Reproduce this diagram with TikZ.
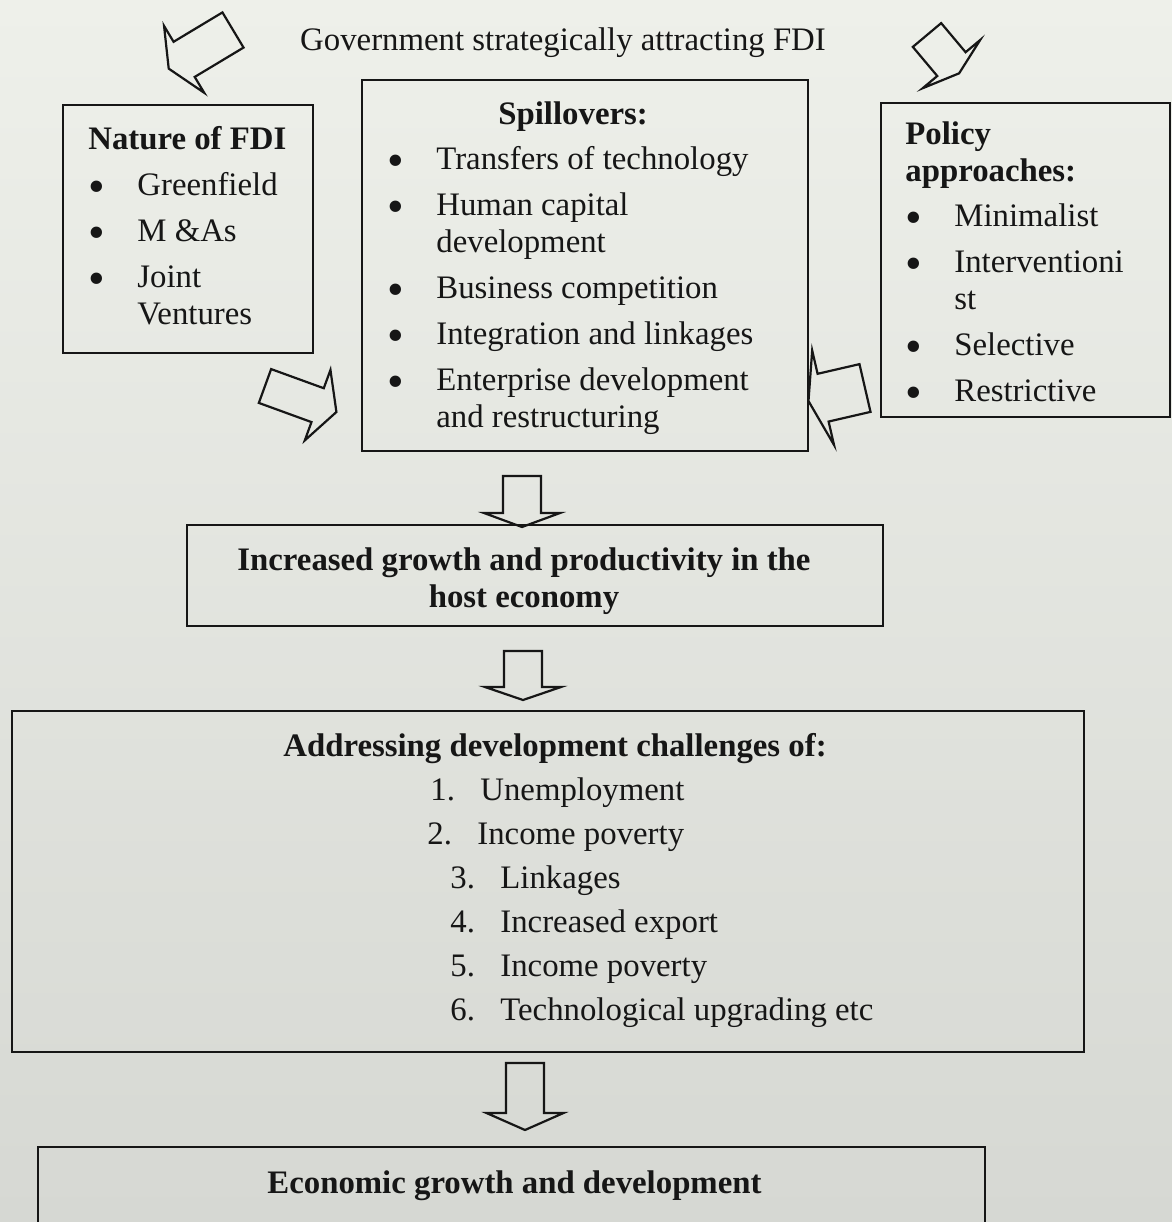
\documentclass[tikz,border=0pt]{standalone}
\usepackage{graphicx}
\usepackage{fontspec}
\setmainfont{Liberation Serif}
\definecolor{pagetop}{RGB}{238,240,234}
\definecolor{pagebot}{RGB}{214,216,211}
\definecolor{ink}{RGB}{22,22,22}
\usetikzlibrary{positioning}

\newcommand{\bodyfont}{\fontsize{16.4}{18.5}\selectfont}
\newcommand{\bl}{\makebox[24.5pt][l]{\raisebox{-3.5pt}{\scalebox{1.45}{\textbullet}}}}
\newcommand{\ind}{\hspace*{24.5pt}}
\newcommand{\nitem}[2]{\hspace*{#1}\makebox[25pt][l]{#2}}

\tikzset{
  box/.style={draw=ink, line width=1.2pt, inner sep=0pt},
  txt/.style={font=\bodyfont, text=ink, inner sep=0pt, align=left},
  arrowline/.style={draw=ink, line width=1.1pt, line join=miter},
  % hollow block arrow: length, head length, shaft width, head width
  pics/blockarrow/.style n args={4}{code={
    \draw[arrowline] (0,-#3/2) -- (#1-#2,-#3/2) -- (#1-#2,-#4/2) -- (#1,0)
      -- (#1-#2,#4/2) -- (#1-#2,#3/2) -- (0,#3/2) -- cycle;
  }}
}

\begin{document}
\begin{tikzpicture}[x=0.5pt, y=-0.5pt]
  \useasboundingbox (0,0) rectangle (1172,1222);
  \shade[top color=pagetop, bottom color=pagebot] (0,0) rectangle (1172,1222);
  \clip (0,0) rectangle (1172,1222);

  \node[font=\bodyfont, text=ink, anchor=base] (govt) at (563,50)
    {Government strategically attracting FDI};

  % boxes
  \node[box, minimum width=125pt, minimum height=124pt] (nature) at (188,229) {};
  \node[box, minimum width=223pt, minimum height=185.5pt] (spill) at (585,265.5) {};
  \node[box, minimum width=144.5pt, minimum height=157pt] (policy) at (1025.5,260) {};
  \node[box, minimum width=348pt, minimum height=50.5pt] (growth) at (535,575.5) {};
  \node[box, minimum width=536pt, minimum height=170.5pt] (address) at (548,881.5) {};
  \node[box, minimum width=473.5pt, minimum height=56pt] (econ) at (511.5,1203) {};

  % box contents
  \node[txt, anchor=north west] (naturetext) at (88,126)
    {\textbf{Nature of FDI}\\[4.5pt]
     \bl Greenfield\\[4.5pt]
     \bl M \&As\\[4.5pt]
     \bl Joint\\
     \ind Ventures};
  \node[txt, anchor=north west] (spilltext) at (387,101)
    {\hspace*{55.5pt}\textbf{Spillovers:}\\[4pt]
     \bl Transfers of technology\\[4.5pt]
     \bl Human capital\\
     \ind development\\[4.5pt]
     \bl Business competition\\[4.5pt]
     \bl Integration and linkages\\[4.5pt]
     \bl Enterprise development\\
     \ind and restructuring};
  \node[txt, anchor=north west] (policytext) at (905,121)
    {\textbf{Policy}\\
     \textbf{approaches:}\\[4pt]
     \bl Minimalist\\[4.5pt]
     \bl Interventioni\\
     \ind st\\[4.5pt]
     \bl Selective\\[4.5pt]
     \bl Restrictive};
  \node[txt, align=center, font=\bodyfont\bfseries, anchor=north] (growthtext) at (524,547)
    {Increased growth and productivity in the\\host economy};
  \node[txt, anchor=north west] (addresstext) at (283,733)
    {\textbf{Addressing development challenges of:}\\[3.5pt]
     \nitem{73.5pt}{1.}Unemployment\\[3.5pt]
     \nitem{72pt}{2.}Income poverty\\[3.5pt]
     \nitem{83.5pt}{3.}Linkages\\[3.5pt]
     \nitem{83.5pt}{4.}Increased export\\[3.5pt]
     \nitem{83.5pt}{5.}Income poverty\\[3.5pt]
     \nitem{83.5pt}{6.}Technological upgrading etc};
  \node[font=\bodyfont\bfseries, text=ink, anchor=base] (econtext) at (514.5,1193)
    {Economic growth and development};

  % block arrows
  \pic[rotate=211] at (233,30) {blockarrow={75}{18}{41}{78}};
  \pic[rotate=-50] at (927,35) {blockarrow={50}{12}{37}{75}};
  \pic[rotate=-20] at (265,386) {blockarrow={76}{20}{36}{75}};
  \pic[rotate=193] at (865,388) {blockarrow={58}{15}{49}{97}};
  \pic[rotate=-90] at (522,476) {blockarrow={51}{14}{38}{76}};
  \pic[rotate=-90] at (523,651) {blockarrow={49}{13}{38}{76}};
  \pic[rotate=-90] at (525,1063) {blockarrow={67}{17}{38}{77}};
\end{tikzpicture}
\end{document}
